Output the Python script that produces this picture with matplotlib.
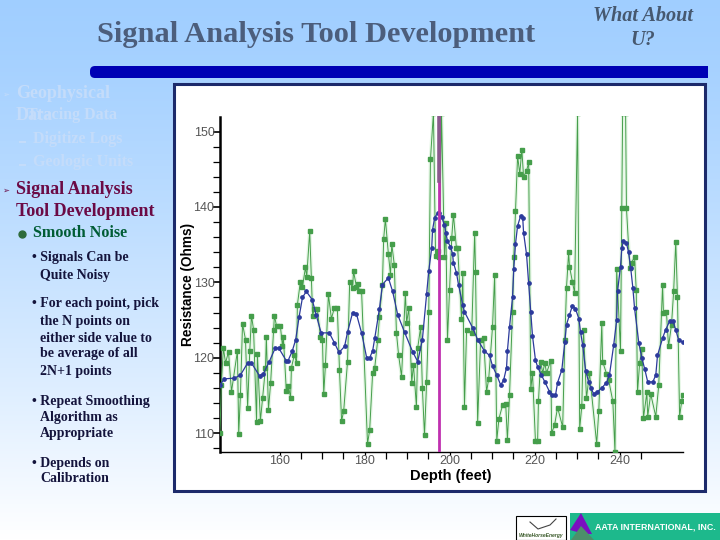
# -*- coding: utf-8 -*-
import numpy as np
import matplotlib.pyplot as plt
from matplotlib.patches import Rectangle, Polygon, FancyBboxPatch

# dados
depth_raw = [146, 146.3, 146.8, 147.3, 148, 148.7, 150.1, 150.4, 150.8, 151.3, 152, 152.5, 153, 153.4, 153.9,
             154.6, 154.8, 155.5, 156, 156.7, 156.9, 157.4, 157.9, 158.6, 158.8, 159.3, 160.2, 160.7, 160.9,
             161.6, 162.1, 162.6, 162.8, 163.5, 164, 164.2, 164.9, 165.4, 166.1, 166.4, 167.1, 167.5, 167.8,
             168.2, 168.9, 169.6, 170.1, 170.4, 170.8, 171.5, 172.2, 172.9, 173.6, 174.1, 174.6, 175.1, 176,
             176.5, 177.2, 177.4, 178.1, 178.4, 178.8, 179.3, 180.7, 181.2, 181.9, 182.4, 183.1, 183.5, 184.2,
             184.5, 184.9, 185.6, 186.1, 186.4, 187, 187.5, 188, 188.7, 189.6, 189.9, 190.4, 191.1, 191.5,
             192.2, 192.5, 193.2, 193.6, 194.1, 194.6, 195.1, 195.5, 196.2, 196.7, 197.2, 197.6, 198.1, 198.8,
             199.1, 199.5, 200, 200.5, 200.9, 201.6, 201.9, 202.8, 203.1, 203.5, 204, 205.2, 205.9, 206.1,
             206.6, 207.3, 208, 208.7, 209.2, 210.1, 210.6, 211.1, 211.6, 212.5, 213.2, 213.6, 214.1, 214.8,
             215.1, 215.5, 216, 216.5, 217, 217.4, 218.1, 218.6, 219.1, 219.5, 220.2, 220.7, 220.9, 221.4,
             221.9, 222.4, 222.8, 223.8, 224, 224.7, 225.4, 226.6, 227.1, 227.5, 228, 228.2, 228.9, 229.4,
             230.1, 230.6, 231.1, 231.5, 232.2, 232.9, 234.6, 235.1, 235.8, 236, 236.9, 237.4, 238.4, 238.9,
             239.3, 240.2, 240.5, 240.7, 241.4, 241.6, 242.4, 242.8, 243.5, 243.9, 244.2, 244.7, 245.2, 245.6,
             246.4, 246.6, 247.3, 248.5, 249.2, 250.1, 250.3, 251, 251.5, 252.2, 252.7, 253.2, 253.6, 254.1,
             254.6, 254.8]
resist_raw = [110, 116.4, 121.3, 119.3, 120.8, 115.5, 120.9, 109.9, 115, 124.5, 122.4, 113.4, 120.9, 125.6, 123.7,
              111.5, 120.5, 111.6, 114.6, 118.7, 122.8, 113.1, 116.6, 123.7, 125.6, 124.2, 124.2, 121.5, 122.8,
              115.6, 116.2, 114.7, 118.7, 120.4, 119.3, 127, 130.1, 129.4, 132, 130.7, 136.8, 130.6, 125.6,
              126.5, 126.5, 122.8, 122.4, 115.2, 119.1, 128.4, 125.2, 126.6, 126.6, 118.4, 111.6, 113, 119.5,
              130.1, 129.3, 131.5, 129.4, 129.8, 128.8, 128.8, 108.6, 110.4, 118, 118.7, 122.4, 125.4, 129.7,
              135.8, 138.4, 133.8, 131, 135.1, 132.3, 123.3, 120.4, 117.5, 128.6, 124.6, 126.6, 116.7, 119.1,
              113.5, 121.3, 124.1, 116, 109.7, 116.8, 126.1, 146.3, 152.5, 133.5, 134.2, 133.4, 152.5, 133.3,
              137.9, 122.3, 129, 135.9, 139, 134.6, 134.6, 125.2, 131.2, 113.5, 123.7, 123.3, 136.6, 131.4,
              111.4, 122.4, 122.6, 115.5, 117.2, 124.1, 131, 109, 111.9, 113.8, 113.9, 109.1, 115.1, 126.1,
              133.4, 139.4, 146.8, 144.4, 147.6, 144, 144.8, 145.9, 115.8, 118, 108.9, 108.9, 114.2, 119.5,
              118, 119.3, 118, 119.6, 110, 111.1, 113.4, 110.8, 122.3, 129.3, 134, 132.1, 130.1, 128.6,
              152.5, 110.6, 113.6, 123.7, 114.6, 118, 108.6, 113, 124.6, 119.5, 117.9, 117.1, 114.2, 107.5,
              131.8, 120.9, 139.8, 152.5, 152.5, 139.8, 131.9, 132.6, 133.4, 129, 115.4, 119.3, 121.2, 112,
              115.4, 112.2, 115.2, 112.2, 116.4, 129.7, 126, 126.1, 121.5, 124.4, 128.8, 135.4, 128, 112.2,
              114.2, 115.1]

depth_smooth = [146, 147, 149.4, 150.8, 152.5, 153.4, 155.3, 156.2, 157.6, 159, 159.8, 161.6, 162, 163, 163.8,
                164.6, 165.4, 166.3, 167.7, 168.6, 169.8, 171.7, 172.9, 174, 175.3, 176, 177.2, 178.1, 179.3,
                180.5, 181.2, 181.9, 182.4, 183.5, 184.2, 185.6, 186.6, 187.8, 189.4, 191.3, 192.5, 193.6, 194.6,
                195.1, 195.8, 196, 196.5, 197.2, 197.6, 198.1, 198.8, 199.1, 199.5, 200.2, 200.7, 200.9, 201.6,
                202.1, 203.1, 203.5, 205.4, 206.6, 208.2, 209.4, 210.1, 211.1, 212, 212.7, 213.4, 213.6, 214.1,
                214.8, 215.1, 215.5, 216, 216.7, 217.2, 217.4, 218.1, 218.6, 219.1, 219.5, 220.2, 220.7, 221.6,
                222.4, 223.5, 224.2, 224.9, 225.4, 226.4, 227.1, 227.5, 228.2, 228.9, 229.6, 230.4, 230.8, 231.3,
                232, 232.7, 233.2, 233.9, 234.6, 235.8, 236.9, 237.6, 238.6, 239.3, 239.5, 240.2, 240.5, 240.9,
                241.6, 242.1, 242.6, 243.1, 243.5, 244.5, 245.2, 245.9, 246.6, 247.8, 248.5, 248.9, 250.1, 250.8,
                251.8, 252.5, 253.2, 253.9, 254.8]
resist_smooth = [116.4, 117.2, 117.3, 117.7, 119.3, 119.3, 117.6, 117.9, 119.5, 121.3, 121.3, 119.6, 119.6, 120.9, 122.4,
                 125.4, 128, 128.8, 127.7, 125.7, 123.3, 123.3, 122, 120.7, 121.5, 123.4, 126, 125.8, 123.3,
                 120, 120, 120.9, 122.6, 126.5, 129.7, 130.6, 128.8, 125.7, 123.4, 120.8, 119.5, 122.4, 128.4,
                 131.5, 134.6, 137, 138.6, 139.2, 139.2, 138.7, 137.6, 136.6, 135.5, 134.7, 133.8, 132.6, 131.3,
                 129.7, 127, 126.1, 124, 122.4, 120.9, 120.3, 118.9, 117.7, 116.4, 117, 118.7, 120.9, 124.1,
                 128, 131.8, 135.1, 137.5, 138.8, 138.6, 136.6, 133.7, 129.9, 126.1, 122.9, 119.7, 118.8, 117.7,
                 116.8, 115.5, 115, 115, 116.7, 118.4, 122.1, 124.4, 125.7, 126.9, 126.5, 125.2, 123.4, 121.7,
                 118.3, 116.8, 116, 115.2, 115.4, 116, 116.7, 117.7, 121.7, 125, 128.8, 132.1, 134.5, 135.5,
                 135.2, 134, 131.9, 129.3, 126.6, 122, 120, 118.5, 116.8, 116.8, 117.7, 120.3, 122.6, 123.7,
                 124.9, 124.9, 123.7, 122.3, 122.1]

marker_depth = [197.6]
xticks_major = [160, 180, 200, 220, 240]
xticks_minor = [165, 170, 175, 185, 190, 195, 205, 210, 215, 225, 230, 235, 245]
yticks_major = [110, 120, 130, 140, 150]
yticks_minor = [108, 112, 114, 116, 118, 122, 124, 126, 128, 132, 134, 136, 138, 142, 144, 146, 148]

faded = '#C4DCFA'
maroon = '#6B0A45'
green_txt = '#005C35'
body = '#14143C'
serif = 'Liberation Serif'
sans = 'Liberation Sans'

fig = plt.figure(figsize=(7.2, 5.4), dpi=100)

# fundo em coordenadas de pixel
bg = fig.add_axes([0, 0, 1, 1])
bg.set_xlim(0, 720)
bg.set_ylim(540, 0)
bg.axis('off')
grad = np.linspace(0, 1, 256).reshape(-1, 1) ** 1.3
grad = np.dstack([0.63 + 0.37 * grad, 0.81 + 0.19 * grad, np.ones_like(grad)])
bg.imshow(grad, extent=[0, 720, 540, 0], aspect='auto', zorder=0)
bg.set_xlim(0, 720)
bg.set_ylim(540, 0)

# barra azul e moldura
bg.add_patch(Rectangle((120, 66), 588, 12, fc='#0000B4', ec='none', zorder=1))
bg.add_patch(FancyBboxPatch((90, 66), 40, 12, boxstyle='round,pad=0,rounding_size=5', fc='#0000B4', ec='none', zorder=1))
bg.add_patch(Rectangle((174, 84), 531, 407, fc='white', ec='#1C2A6B', lw=2.2, zorder=1))

# titulo
bg.text(316, 34, 'Signal Analysis Tool Development', family=serif, weight='bold', fontsize=21.9,
        color='#4C5E7C', ha='center', va='center')
bg.text(643, 16, 'What About', family=serif, weight='bold', style='italic', fontsize=14.6,
        color='#46586F', ha='center', va='center')
bg.text(643, 40, 'U?', family=serif, weight='bold', style='italic', fontsize=14.6,
        color='#46586F', ha='center', va='center')

# texto da esquerda
def label(x, y, s, size, color):
    bg.text(x, y, s, family=serif, weight='bold', fontsize=size, color=color, va='center')

label(16, 93, 'Geophysical', 13, faded)
label(16, 115, 'Data', 13, faded)
label(27, 115, 'Tracing Data', 11.5, faded)
label(33, 139, 'Digitize Logs', 11.5, faded)
label(33, 162, 'Geologic Units', 11.5, faded)
label(16, 189, 'Signal Analysis', 13, maroon)
label(16, 211, 'Tool Development', 13, maroon)
label(33, 233, 'Smooth Noise', 11.6, green_txt)

body_lines = [(32, 258, '• Signals Can be'), (40, 275, 'Quite Noisy'),
              (32, 304, '• For each point, pick'), (40, 321, 'the N points on'),
              (40, 338, 'either side value to'), (40, 354, 'be average of all'),
              (40, 371, '2N+1 points'),
              (32, 401, '• Repeat Smoothing'), (40, 417, 'Algorithm as'), (40, 434, 'Appropriate'),
              (32, 463, '• Depends on'), (40, 479, 'Calibration')]
for x, y, s in body_lines:
    label(x, y, s, 10, body)

for y, c in [(93, faded), (189, maroon)]:
    bg.text(6, y + 1, '➢', family='DejaVu Sans', fontsize=6, color=c, ha='center', va='center')
for y in [139, 162]:
    bg.plot([20, 25], [y + 3, y + 3], color=faded, lw=1.5)
bg.plot([22], [234], marker='o', ms=5, color='#2E6B3A', ls='none')

# logos
bg.add_patch(Rectangle((516, 516), 50, 24, fc='white', ec='black', lw=0.8, zorder=1))
bg.text(541, 535, 'WhiteHorseEnergy', family=sans, style='italic', weight='bold', fontsize=3.6,
        color='#3A5A2A', ha='center', va='center')
bg.plot([530, 538, 550, 556], [522, 529, 525, 519], color='#444444', lw=0.8)
bg.add_patch(Rectangle((570, 513), 150, 27, fc='#1DB98C', ec='none', zorder=1))
bg.add_patch(Polygon([[570, 530], [581, 513], [592, 534], [584, 534]], fc='#7A10C0', ec='none', zorder=2))
bg.add_patch(Polygon([[571, 540], [581, 526], [594, 540]], fc='#4C8F6A', ec='none', zorder=2))
bg.text(595, 527, 'AATA INTERNATIONAL, INC.', family=sans, weight='bold', fontsize=6.4,
        color='white', va='center')

# grafico
ax = fig.add_axes([220 / 720, (540 - 452) / 540, (683 - 220) / 720, (452 - 116.5) / 540])
ax.patch.set_alpha(0)
ax.set_xlim(146, 254.9)
ax.set_ylim(107.5, 152)

ax.plot(depth_raw, resist_raw, color='#7FD67F', lw=2.6, alpha=0.2, zorder=2)
ax.plot(depth_raw, resist_raw, '-s', color='#459E4B', lw=0.7, ms=2.2, zorder=3)
ax.plot(depth_smooth, resist_smooth, '-o', color='#2C3A9C', lw=0.9, ms=2.4, zorder=4)
ax.axvline(marker_depth[0], color='#C030B0', lw=2, zorder=5)
ax.plot([marker_depth[0], marker_depth[0]], [143.5, 152], color='#8A5A8C', lw=2.6, zorder=6)

for s in ['top', 'right']:
    ax.spines[s].set_visible(False)
ax.spines['left'].set_linewidth(1.8)
ax.spines['bottom'].set_linewidth(1.0)

ax.set_xticks(xticks_major)
ax.set_xticks(xticks_minor, minor=True)
ax.set_yticks(yticks_major)
ax.set_yticks(yticks_minor, minor=True)
ax.tick_params(axis='x', which='major', length=2, width=0.9, labelsize=9, pad=0, labelcolor='#555555')
ax.tick_params(axis='x', which='minor', length=5, width=0.9)
ax.tick_params(axis='y', which='major', length=5, width=1.2, labelsize=9, pad=-1, labelcolor='#555555')
ax.tick_params(axis='y', which='minor', length=5, width=0.9)
for t in ax.get_xticklabels() + ax.get_yticklabels():
    t.set_family(sans)

ax.set_xlabel('Depth (feet)', family=sans, weight='bold', fontsize=10.5)
ax.xaxis.set_label_coords((451 - 220) / (683 - 220), -0.05)
ax.set_ylabel('Resistance (Ohms)', family=sans, weight='bold', fontsize=9.8)
ax.yaxis.set_label_coords((195 - 220) / (683 - 220), (452 - 285) / (452 - 116.5))

fig.savefig('out.png', dpi=100)
